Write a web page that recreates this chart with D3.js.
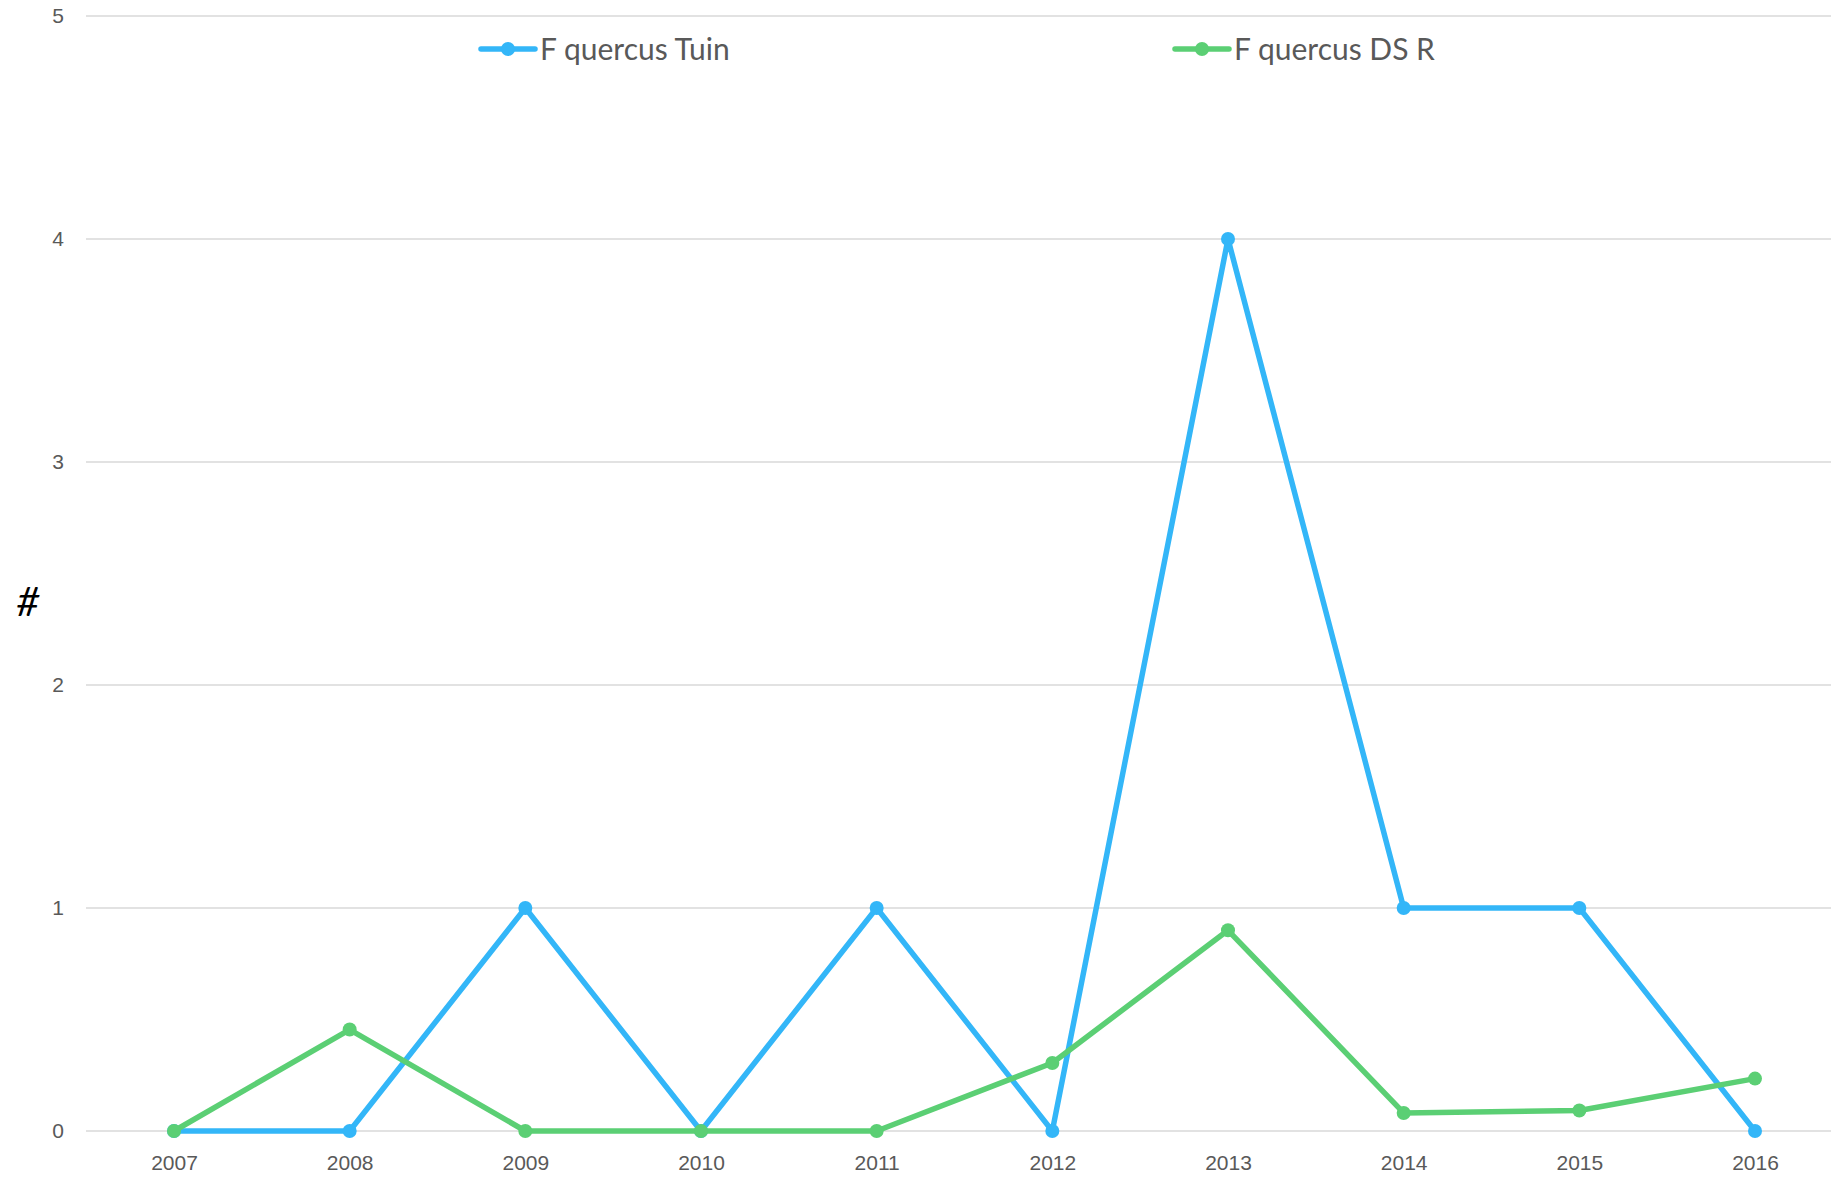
<!DOCTYPE html>
<html>
<head>
<meta charset="utf-8">
<script src="https://cdn.jsdelivr.net/npm/d3@7"></script>
<style>
  body { margin: 0; background: #fff; }
  svg { display: block; font-family: Lato, "Open Sans", sans-serif; }
</style>
</head>
<body>
<svg id="chart"></svg>
<script>
// chart values
var years = ['2007','2008','2009','2010','2011','2012','2013','2014','2015','2016'];
var tuin = [0, 0, 1, 0, 1, 0, 4, 1, 1, 0];
var dsr = [0, 0.455, 0, 0, 0, 0.305, 0.9, 0.081, 0.092, 0.235];
var seriesNames = ['F quercus Tuin', 'F quercus DS R'];
var yTicks = [0, 1, 2, 3, 4, 5];

var svgWidth = 1831, svgHeight = 1178;
var colors = ['#33b6f8', '#5bcf74'];

var svg = d3.select('#chart')
    .attr('width', svgWidth)
    .attr('height', svgHeight);

var x = d3.scalePoint()
    .domain(years)
    .range([174, 1755]);

var y = d3.scaleLinear()
    .domain([0, 5])
    .range([1131, 16]);

// grid lines
svg.append('g')
    .selectAll('line')
    .data(yTicks)
    .enter()
    .append('line')
    .attr('x1', 86)
    .attr('x2', svgWidth)
    .attr('y1', d => y(d))
    .attr('y2', d => y(d))
    .attr('stroke', '#d9d9d9')
    .attr('stroke-width', 1.5);

// y axis labels
var yAxis = d3.axisLeft(y).tickValues(yTicks).tickFormat(d3.format('d')).tickSize(0).tickPadding(0);
var yg = svg.append('g')
    .attr('transform', 'translate(64,0)')
    .call(yAxis);
yg.select('.domain').remove();
yg.selectAll('text')
    .attr('fill', '#595959')
    .style('font-size', '21px')
    .attr('text-anchor', 'end');

// x axis labels
var xAxis = d3.axisBottom(x).tickSize(0).tickPadding(0);
var xg = svg.append('g')
    .attr('transform', 'translate(0,1155)')
    .call(xAxis);
xg.select('.domain').remove();
xg.selectAll('text')
    .attr('fill', '#595959')
    .style('font-size', '21px');

// y title
svg.append('text')
    .attr('x', 28)
    .attr('y', 616)
    .attr('text-anchor', 'middle')
    .style('font-size', '40px')
    .style('font-style', 'italic')
    .attr('fill', '#000')
    .text('#');

var line = d3.line()
    .x((d, i) => x(years[i]))
    .y(d => y(d));

[tuin, dsr].forEach(function(data, k) {
    svg.append('path')
        .datum(data)
        .attr('fill', 'none')
        .attr('stroke', colors[k])
        .attr('stroke-width', 5.5)
        .attr('stroke-linejoin', 'round')
        .attr('d', line);
    svg.append('g')
        .selectAll('circle')
        .data(data)
        .enter()
        .append('circle')
        .attr('cx', (d, i) => x(years[i]))
        .attr('cy', d => y(d))
        .attr('r', 7)
        .attr('fill', colors[k]);
});

// legend
var legendX = [481, 1175];
seriesNames.forEach(function(name, k) {
    var g = svg.append('g').attr('transform', 'translate(' + legendX[k] + ',49)');
    g.append('line')
        .attr('x1', 0).attr('x2', 54)
        .attr('stroke', colors[k])
        .attr('stroke-width', 5.5)
        .attr('stroke-linecap', 'round');
    g.append('circle')
        .attr('cx', 27).attr('r', 7)
        .attr('fill', colors[k]);
    g.append('text')
        .attr('x', 59)
        .attr('dy', '0.35em')
        .attr('fill', '#595959')
        .style('font-size', '30px')
        .text(name);
});
</script>
</body>
</html>
